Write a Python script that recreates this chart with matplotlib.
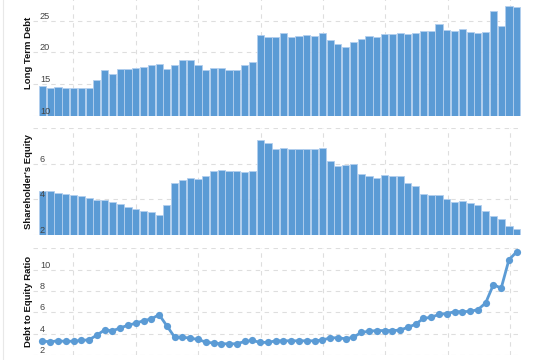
import numpy as np
import matplotlib
matplotlib.use("Agg")
import matplotlib.pyplot as plt
from matplotlib.transforms import blended_transform_factory

plt.rcParams['font.family'] = ['Liberation Sans', 'DejaVu Sans']

# ---- data (quarterly, oldest -> newest) ----
long_term_debt = [14.72, 14.41, 14.51, 14.30, 14.30, 14.30, 14.41, 15.59, 17.25, 16.63,
                  17.35, 17.35, 17.56, 17.76, 17.97, 18.13, 17.45, 17.97, 18.75, 18.75,
                  17.97, 17.14, 17.56, 17.56, 17.25, 17.14, 17.97, 18.54, 22.78, 22.42,
                  22.52, 23.04, 22.52, 22.67, 22.78, 22.67, 23.14, 21.90, 21.28, 20.81,
                  21.69, 22.11, 22.67, 22.42, 22.93, 22.93, 23.09, 22.93, 23.14, 23.35,
                  23.35, 24.53, 23.60, 23.45, 23.66, 23.24, 23.14, 23.24, 26.55, 24.12,
                  27.38, 27.17]
shareholders_equity = [4.45, 4.45, 4.34, 4.28, 4.24, 4.19, 4.09, 3.98, 3.94, 3.83,
                       3.73, 3.56, 3.47, 3.36, 3.28, 3.09, 3.68, 4.94, 5.09, 5.21,
                       5.15, 5.32, 5.60, 5.66, 5.57, 5.57, 5.53, 5.57, 7.36, 7.15,
                       6.85, 6.91, 6.85, 6.85, 6.85, 6.85, 6.89, 6.15, 5.87, 5.94,
                       6.00, 5.41, 5.32, 5.21, 5.38, 5.32, 5.32, 4.94, 4.72, 4.28,
                       4.24, 4.24, 4.02, 3.85, 3.89, 3.77, 3.66, 3.36, 3.05, 2.88,
                       2.47, 2.32]
debt_to_equity = [3.30, 3.24, 3.33, 3.27, 3.30, 3.36, 3.43, 3.86, 4.36, 4.26,
                  4.54, 4.79, 4.98, 5.22, 5.38, 5.78, 4.73, 3.67, 3.67, 3.58,
                  3.46, 3.21, 3.12, 3.05, 3.05, 3.05, 3.27, 3.36, 3.18, 3.18,
                  3.33, 3.33, 3.33, 3.33, 3.33, 3.33, 3.40, 3.61, 3.61, 3.52,
                  3.67, 4.11, 4.23, 4.29, 4.29, 4.29, 4.33, 4.60, 4.88, 5.44,
                  5.53, 5.81, 5.88, 6.06, 6.06, 6.09, 6.25, 6.87, 8.60, 8.26,
                  10.93, 11.67]

panel_titles = ["Long Term Debt", "Shareholder's Equity", "Debt to Equity Ratio"]
top_ticks = [10, 15, 20, 25, 30]
mid_ticks = [2, 4, 6, 8]
bot_ticks = [2, 4, 6, 8, 10, 12]
year_grid = [3.95, 11.98, 20.0, 28.05, 36.08, 44.1, 52.1, 60.1]

BLUE = '#5b9bd5'
EDGE = '#b3cfee'
GRID = '#dedede'
TICKC = '#444444'

W, H = 550, 360
fig = plt.figure(figsize=(W / 100, H / 100), dpi=100)

def ax_at(top_px, bot_px):
    left, right = 33, 521
    return fig.add_axes([left / W, 1 - bot_px / H, (right - left) / W, (bot_px - top_px) / H])

ax1 = ax_at(-10.6, 115.5)
ax2 = ax_at(128.3, 234.7)
ax3 = ax_at(248.3, 355.0)

x = np.arange(len(long_term_debt))

ax1.bar(x, long_term_debt, width=0.92, color=BLUE, edgecolor=EDGE, linewidth=0.6, zorder=2)
ax2.bar(x, shareholders_equity, width=0.92, color=BLUE, edgecolor=EDGE, linewidth=0.6, zorder=2)
ax3.plot(x, debt_to_equity, color=BLUE, lw=2, marker='o', markersize=5.2,
         markeredgewidth=0, zorder=3, clip_on=False)

for ax, ticks, lim, title in [(ax1, top_ticks, (10, 30), panel_titles[0]),
                              (ax2, mid_ticks, (2, 8), panel_titles[1]),
                              (ax3, bot_ticks, (2, 12), panel_titles[2])]:
    ax.set_xlim(-1.22, 61.55)
    ax.set_ylim(*lim)
    ax.set_yticks(ticks)
    ax.set_xticks(year_grid)
    ax.tick_params(length=0, labelleft=False, labelbottom=False)
    ax.grid(True, color=GRID, linestyle=(0, (4, 4)), linewidth=0.8, zorder=0)
    ax.set_axisbelow(True)
    for s in ax.spines.values():
        s.set_visible(False)
    tr = blended_transform_factory(ax.transAxes, ax.transData)
    for t in ticks:
        if t < lim[1]:
            ax.text(0.0143, t, str(t), transform=tr, ha='left', va='bottom',
                    fontsize=6.6, color=TICKC, zorder=5)
    ax.text(-0.0102, 0.5, title, transform=ax.transAxes, rotation=90,
            ha='center', va='center', fontsize=6.8, fontweight='bold', color='#111111')

# faint left frame line
fig.add_artist(plt.Line2D([3 / W, 3 / W], [0, 1], color='#e8e8e8', lw=0.8))

fig.savefig('out.png', dpi=100)
